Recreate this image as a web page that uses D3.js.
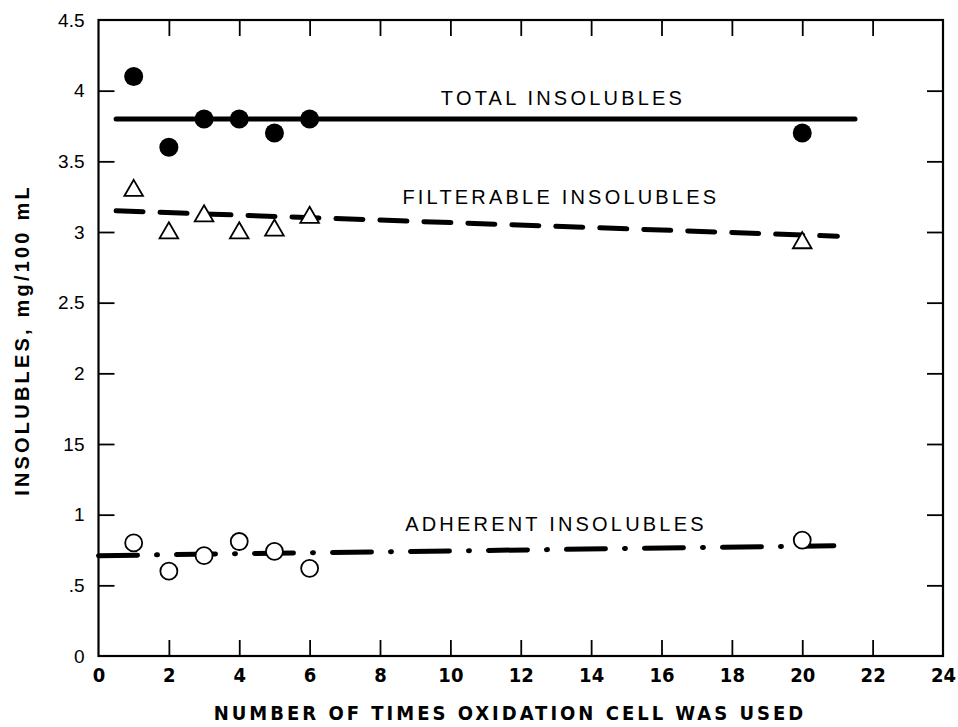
<!DOCTYPE html>
<html><head><meta charset="utf-8">
<script src="https://cdn.jsdelivr.net/npm/d3@7"></script>
<style>body{margin:0;background:#fff}svg{display:block}</style>
</head><body>
<svg id="c" width="958" height="727"></svg>
<script>
// ---- data ----
const runs = [1, 2, 3, 4, 5, 6, 20];
const totalValues = [4.1, 3.6, 3.8, 3.8, 3.7, 3.8, 3.7];
const filterableValues = [3.3, 3.0, 3.12, 3.0, 3.02, 3.11, 2.93];
const adherentValues = [0.8, 0.6, 0.71, 0.81, 0.74, 0.62, 0.82];
const totalFit = [[0.5, 3.8], [21.5, 3.8]];
const filterableFit = [[0.5, 3.15], [21, 2.97]];
const adherentFit = [[0, 0.71], [20.9, 0.78]];
const xTicks = [0, 2, 4, 6, 8, 10, 12, 14, 16, 18, 20, 22, 24];
const yTicks = [0, 0.5, 1, 1.5, 2, 2.5, 3, 3.5, 4, 4.5];
const yTickLabels = ["0", ".5", "1", "15", "2", "2.5", "3", "3.5", "4", "4.5"];
const xTitle = "NUMBER OF TIMES OXIDATION CELL WAS USED";
const yTitle = "INSOLUBLES, mg/100 mL";
const seriesLabels = [
  {text: "TOTAL INSOLUBLES", x: 13.2, y: 3.90},
  {text: "FILTERABLE INSOLUBLES", x: 13.14, y: 3.2},
  {text: "ADHERENT INSOLUBLES", x: 13.0, y: 0.885}
];

// ---- chart ----
const svg = d3.select("#c");
const x = d3.scaleLinear().domain([0, 24]).range([98.5, 943]);
const y = d3.scaleLinear().domain([0, 4.5]).range([656, 20]);
const L = x(0), R = x(24), T = y(4.5), B = y(0);
const tickLen = 16;

// frame
svg.append("rect").attr("x", L).attr("y", T).attr("width", R - L).attr("height", B - T)
  .attr("fill", "none").attr("stroke", "#000").attr("stroke-width", 2.2);

// axes with inward ticks
const gB = svg.append("g").attr("transform", `translate(0,${B})`)
  .call(d3.axisBottom(x).tickValues(xTicks).tickSize(-tickLen).tickPadding(12).tickFormat(d3.format("d")));
const gT = svg.append("g").attr("transform", `translate(0,${T})`)
  .call(d3.axisTop(x).tickValues(xTicks.slice(1, -1)).tickSize(-tickLen).tickFormat(""));
const gL = svg.append("g").attr("transform", `translate(${L},0)`)
  .call(d3.axisLeft(y).tickValues(yTicks).tickSize(-tickLen).tickPadding(14)
    .tickFormat((d, i) => yTickLabels[i]));
const gR = svg.append("g").attr("transform", `translate(${R},0)`)
  .call(d3.axisRight(y).tickValues(yTicks.slice(1, -1)).tickSize(-tickLen).tickFormat(""));
[gB, gT, gL, gR].forEach(g => {
  g.select(".domain").remove();
  g.selectAll(".tick line").attr("stroke", "#000").attr("stroke-width", 1.8);
});
gL.selectAll(".tick").filter(d => d === 0 || d === 4.5).select("line").remove();
gB.selectAll(".tick").filter(d => d === 0 || d === 24).select("line").remove();
gB.selectAll("text").attr("font-family", "'DejaVu Sans Condensed', 'DejaVu Sans'")
  .attr("font-weight", "bold").attr("font-size", 20).attr("fill", "#000");
gL.selectAll("text").attr("font-family", "'Liberation Sans', Arial, sans-serif")
  .attr("font-size", 19).attr("fill", "#000");

// axis titles
svg.append("text").attr("x", 510).attr("y", 720).attr("text-anchor", "middle")
  .attr("font-family", "'DejaVu Sans Condensed', 'DejaVu Sans'").attr("font-weight", "bold")
  .attr("font-size", 20).attr("letter-spacing", 3.0)
  .attr("fill", "#000").text(xTitle);
svg.append("text").attr("transform", `translate(29,340) rotate(-90)`)
  .attr("text-anchor", "middle").attr("font-family", "'Liberation Sans', Arial, sans-serif")
  .attr("font-weight", "bold").attr("font-size", 20).attr("letter-spacing", 3.2)
  .attr("fill", "#000").text(yTitle);

// fit lines
const line = d3.line().x(d => x(d[0])).y(d => y(d[1]));
svg.append("path").attr("d", line(totalFit)).attr("stroke", "#000").attr("stroke-width", 5)
  .attr("fill", "none").attr("stroke-linecap", "round");
svg.append("path").attr("d", line(filterableFit)).attr("stroke", "#000").attr("stroke-width", 5)
  .attr("fill", "none").attr("stroke-dasharray", "27,17").attr("stroke-linecap", "round");
svg.append("path").attr("d", line(adherentFit)).attr("stroke", "#000").attr("stroke-width", 5)
  .attr("fill", "none").attr("stroke-dasharray", "39,19,1,19").attr("stroke-linecap", "round");

// markers
svg.append("g").selectAll("circle").data(runs).join("circle")
  .attr("cx", d => x(d)).attr("cy", (d, i) => y(totalValues[i])).attr("r", 9.5).attr("fill", "#000");
const tri = d3.symbol().type(d3.symbolTriangle).size(150);
svg.append("g").selectAll("path").data(runs).join("path")
  .attr("transform", (d, i) => `translate(${x(d)},${y(filterableValues[i]) + 1})`)
  .attr("d", tri).attr("fill", "#fff").attr("stroke", "#000").attr("stroke-width", 1.8);
svg.append("g").selectAll("circle").data(runs).join("circle")
  .attr("cx", d => x(d)).attr("cy", (d, i) => y(adherentValues[i])).attr("r", 8.5)
  .attr("fill", "#fff").attr("stroke", "#000").attr("stroke-width", 1.8);

// series labels
svg.append("g").selectAll("text").data(seriesLabels).join("text")
  .attr("x", d => x(d.x)).attr("y", d => y(d.y)).attr("text-anchor", "middle")
  .attr("font-family", "'Liberation Sans', Arial, sans-serif").attr("font-size", 20)
  .attr("letter-spacing", 3.2).attr("fill", "#000").text(d => d.text);
</script>
</body></html>
